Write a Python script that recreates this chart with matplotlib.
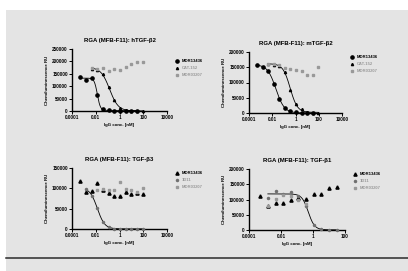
import numpy as np
import matplotlib
matplotlib.use('Agg')
import matplotlib.pyplot as plt

plt.rcParams['font.family'] = ['Liberation Sans', 'DejaVu Sans']
plt.rcParams['font.weight'] = 'bold'

# ---- data (IgG conc. in nM, signal in RU) ----
titles = ['RGA (MFB-F11): hTGF-\u03b22', 'RGA (MFB-F11): mTGF-\u03b22',
          'RGA (MFB-F11): TGF-\u03b23', 'RGA (MFB-F11): TGF-\u03b21']
y_tops = [250000, 200000, 150000, 200000]
x_tick_sets = [[1e-4, 1e-2, 1, 1e2, 1e4], [1e-4, 1e-2, 1, 1e2, 1e4],
               [1e-4, 1e-2, 1, 1e2, 1e4], [1e-4, 1e-2, 1, 1e2]]
x_tick_labels = ['0.0001', '0.01', '1', '100', '10000']

# hTGF-b2
h2_mor_x = [0.0005, 0.0015, 0.0046, 0.014, 0.041, 0.12, 0.37, 1.1, 3.3, 10, 30]
h2_mor_y = [137000, 124000, 133000, 65000, 8000, 3000, 2000, 1500, 1500, 1500, 1500]
h2_cat_x = [0.0046, 0.014, 0.041, 0.12, 0.37, 1.1, 3.3, 10, 30, 90]
h2_cat_y = [170000, 167000, 148000, 95000, 45000, 14000, 4000, 1500, 1000, 1000]
h2_ctl_x = [0.0046, 0.014, 0.041, 0.12, 0.37, 1.1, 3.3, 10, 30, 90]
h2_ctl_y = [172000, 168000, 175000, 162000, 169000, 165000, 179000, 188000, 199000, 199000]

# mTGF-b2
m2_mor_x = [0.0005, 0.0015, 0.0046, 0.014, 0.041, 0.12, 0.37, 1.1, 3.3, 10, 30]
m2_mor_y = [157000, 152000, 138000, 95000, 45000, 17000, 5000, 2000, 1000, 1000, 1000]
m2_cat_x = [0.0046, 0.014, 0.041, 0.12, 0.37, 1.1, 3.3, 10, 30, 90]
m2_cat_y = [160000, 159000, 155000, 135000, 75000, 28000, 12000, 4000, 1500, 1000]
m2_ctl_x = [0.0046, 0.014, 0.041, 0.12, 0.37, 1.1, 3.3, 10, 30, 90]
m2_ctl_y = [160000, 160000, 158000, 146000, 145000, 140000, 138000, 124000, 124000, 151000]

# TGF-b3
b3_mor_x = [0.0005, 0.0015, 0.0046, 0.014, 0.041, 0.12, 0.37, 1.1, 3.3, 10, 30, 90]
b3_mor_y = [119000, 90000, 93000, 114000, 95000, 88000, 81000, 81000, 90000, 85000, 88000, 86000]
b3_1d11_x = [0.0015, 0.0046, 0.014, 0.041, 0.12, 0.37, 1.1, 3.3, 10, 30, 90]
b3_1d11_y = [98000, 80000, 52000, 18000, 4000, 1000, 500, 500, 500, 500, 500]
b3_ctl_x = [0.014, 0.041, 0.12, 0.37, 1.1, 3.3, 10, 30, 90]
b3_ctl_y = [97000, 98000, 96000, 97000, 116000, 98000, 95000, 92000, 102000]

# TGF-b1
b1_mor_x = [0.0005, 0.0015, 0.0046, 0.014, 0.041, 0.12, 0.37, 1.1, 3.3, 10, 30]
b1_mor_y = [110000, 78000, 88000, 90000, 97000, 104000, 101000, 118000, 118000, 137000, 140000]
b1_1d11_x = [0.0015, 0.0046, 0.014, 0.041, 0.12, 0.37, 1.1, 3.3, 10, 30]
b1_1d11_y = [105000, 128000, 118000, 124000, 112000, 78000, 18000, 3000, 1000, 800]
b1_ctl_x = [0.0015, 0.0046, 0.014, 0.041, 0.12, 0.37]
b1_ctl_y = [80000, 102000, 116000, 110000, 98000, 86000]

legend_sets = [['MOR13436', 'CAT-152', 'MOR03207'], ['MOR13436', 'CAT-152', 'MOR03207'],
               ['MOR13436', '1D11', 'MOR03207'], ['MOR13436', '1D11', 'MOR03207']]

series = [
    [(h2_mor_x, h2_mor_y, 'o', True), (h2_cat_x, h2_cat_y, '^', True), (h2_ctl_x, h2_ctl_y, 's', False)],
    [(m2_mor_x, m2_mor_y, 'o', True), (m2_cat_x, m2_cat_y, '^', True), (m2_ctl_x, m2_ctl_y, 's', False)],
    [(b3_mor_x, b3_mor_y, '^', False), (b3_1d11_x, b3_1d11_y, 'o', True), (b3_ctl_x, b3_ctl_y, 's', False)],
    [(b1_mor_x, b1_mor_y, '^', False), (b1_1d11_x, b1_1d11_y, 'o', True), (b1_ctl_x, b1_ctl_y, 's', False)],
]


def fit_curve(x, y):
    # crude 4-parameter logistic fit: grid over EC50/hill, top & bottom by least squares
    lx = np.log10(np.asarray(x, float))
    y = np.asarray(y, float)
    best = None
    for c in np.linspace(lx.min(), lx.max(), 81):
        for h in np.linspace(0.6, 6, 28):
            s = 1 / (1 + 10 ** ((lx - c) * h))
            A = np.column_stack([s, 1 - s])
            coef = np.linalg.lstsq(A, y, rcond=None)[0]
            err = np.sum((A @ coef - y) ** 2)
            if best is None or err < best[0]:
                best = (err, c, h, coef)
    _, c, h, (top, bot) = best
    xs = np.logspace(lx.min(), lx.max(), 200)
    ys = bot + (top - bot) / (1 + 10 ** ((np.log10(xs) - c) * h))
    return xs, ys


W, H = 408, 271
fig = plt.figure(figsize=(W / 100, H / 100), dpi=100)
fig.patch.set_facecolor('#e4e4e4')
fig.patches.append(plt.Rectangle((0, 1 - 10 / H), 1, 10 / H, transform=fig.transFigure,
                                 facecolor='white', edgecolor='none'))
fig.patches.append(plt.Rectangle((0, 0), 6 / W, 1, transform=fig.transFigure,
                                 facecolor='white', edgecolor='none'))
fig.lines.append(plt.Line2D([6 / W, 1], [(H - 258) / H] * 2, transform=fig.transFigure,
                            color='#2a2a2a', lw=1.1))

# axes boxes in pixels: left, right, top, bottom
boxes = [(72, 167, 49, 111), (249, 342, 52, 113), (72, 167, 168, 229), (249, 345, 169, 230)]
legend_pos = [(1.07, 0.86), (1.07, 0.97), (1.07, 0.97), (1.07, 0.97)]

for i, (l, r, t, b) in enumerate(boxes):
    ax = fig.add_axes([l / W, (H - b) / H, (r - l) / W, (b - t) / H])
    ax.set_facecolor('none')
    ax.set_xscale('log')
    ticks = x_tick_sets[i]
    ax.set_xlim(ticks[0], ticks[-1])
    ax.set_ylim(0, y_tops[i])
    ax.set_xticks(ticks)
    ax.set_xticklabels(x_tick_labels[:len(ticks)])
    ax.xaxis.set_minor_locator(matplotlib.ticker.NullLocator())
    yt = np.arange(0, y_tops[i] + 1, 50000)
    ax.set_yticks(yt)
    ax.set_yticklabels([str(int(v)) for v in yt])
    for side in ('top', 'right'):
        ax.spines[side].set_visible(False)
    for side in ('left', 'bottom'):
        ax.spines[side].set_linewidth(1.0)
    ax.tick_params(labelsize=3.3, width=0.7, length=2, pad=1)
    ax.set_title(titles[i], fontsize=4.3, fontweight='bold', pad=5)
    ax.set_xlabel('IgG conc. [nM]', fontsize=3.2, fontweight='bold', labelpad=2)
    ax.set_ylabel('Chemiluminescence RU', fontsize=3.2, fontweight='bold', labelpad=2)

    handles = []
    for j, (xs, ys, mk, fitted) in enumerate(series[i]):
        if j == 0:
            col, ms = 'black', 2.3
        elif j == 1:
            col, ms = ('black', 1.6) if i < 2 else ('#707070', 1.5)
        else:
            col, ms = '#999999', 1.5
        hnd, = ax.plot(xs, ys, mk, color=col, ms=ms, mec=col, clip_on=False,
                       label=legend_sets[i][j], zorder=3)
        handles.append(hnd)
        if fitted:
            fx, fy = fit_curve(xs, ys)
            ax.plot(fx, fy, color='black', lw=0.6, zorder=2)

    leg = ax.legend(handles=handles, loc='upper left', bbox_to_anchor=legend_pos[i],
                    frameon=False, fontsize=3, handlelength=1, handletextpad=0.6,
                    labelspacing=0.7, borderaxespad=0)
    for k, txt in enumerate(leg.get_texts()):
        txt.set_color('black' if k == 0 else '#9a9a9a')

fig.savefig('out.png', dpi=100, facecolor=fig.get_facecolor())
